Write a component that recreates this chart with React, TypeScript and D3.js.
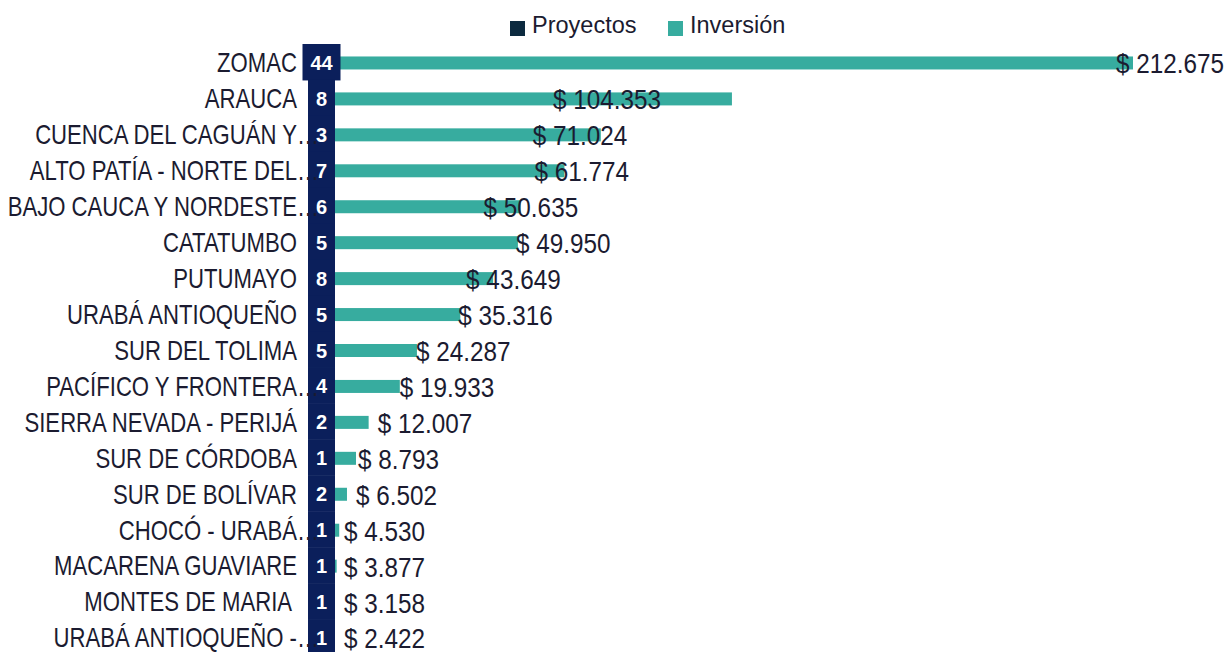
import React from 'react';
import * as d3 from 'd3';

// Regions (PDET), as shown top to bottom
const regiones = [
  'ZOMAC', 'ARAUCA', 'CUENCA DEL CAGUÁN Y', 'ALTO PATÍA - NORTE DEL', 'BAJO CAUCA Y NORDESTE',
  'CATATUMBO', 'PUTUMAYO', 'URABÁ ANTIOQUEÑO', 'SUR DEL TOLIMA', 'PACÍFICO Y FRONTERA',
  'SIERRA NEVADA - PERIJÁ', 'SUR DE CÓRDOBA', 'SUR DE BOLÍVAR', 'CHOCÓ - URABÁ',
  'MACARENA GUAVIARE', 'MONTES DE MARIA ', 'URABÁ ANTIOQUEÑO -',
];
// labels cut off by Excel get an ellipsis
const truncated = [false, false, true, true, true, false, false, false, false, true, false, false, false, true, false, false, true];
const proyectos = [44, 8, 3, 7, 6, 5, 8, 5, 5, 4, 2, 1, 2, 1, 1, 1, 1];
const inversion = [212675, 104353, 71024, 61774, 50635, 49950, 43649, 35316, 24287, 19933, 12007, 8793, 6502, 4530, 3877, 3158, 2422];
// manual label nudges (px) like the original sheet
const labelNudge = [-17, -179, -68, -30, -37, -2, -27, -2, -1, 0, 9, 2, 9, 0, 0, 0, 0];
const axisMax = 206300;

const NAVY = '#0b1f5b';
const TEAL = '#37ac9f';
const TEXT = '#1b1b30';
const FONT = '"Liberation Sans", Arial, sans-serif';
const NARROW = 0.82;
const NARROW_VAL = 0.9;

const fmt = (v: number) => '$ ' + d3.format(',')(v).replace(/,/g, '.');

export default function App() {
  const W = 1226;
  const H = 652;
  const y = d3.scaleBand<string>().domain(regiones).range([44, 655]).paddingInner(0);
  const x = d3.scaleLinear().domain([0, axisMax]).range([321.4, 1133]).clamp(true);
  const boxCx = 321.5;
  const labelRight = 297;

  return (
    <svg width={W} height={H} style={{ position: 'absolute', left: 0, top: 0, background: '#fff' }}>
      {/* legend */}
      <g fontFamily={FONT} fontSize={23.5} fill={TEXT}>
        <rect x={510} y={21} width={15} height={15} fill="#0c2a3f" />
        <text x={532} y={33}>Proyectos</text>
        <rect x={668} y={21} width={15} height={15} fill={TEAL} />
        <text x={690} y={33}>Inversión</text>
      </g>

      {/* teal bars */}
      {regiones.map((r, i) => {
        const cy = (y(r) as number) + y.bandwidth() / 2 + 1;
        return (
          <rect key={'b' + r} x={x(0)} y={cy - 6.5} width={x(inversion[i]) - x(0)} height={13} fill={TEAL} />
        );
      })}

      {/* navy project column */}
      {regiones.map((r, i) => {
        const t = String(proyectos[i]);
        const w = Math.max(27, t.length * 11 + 16);
        return (
          <rect key={'n' + r} x={boxCx - w / 2} y={y(r) as number} width={w} height={y.bandwidth() + 0.5} fill={NAVY} />
        );
      })}

      {/* category labels */}
      {regiones.map((r, i) => {
        const cy = (y(r) as number) + y.bandwidth() / 2 + 1;
        return (
          <g key={'l' + r} fontFamily={FONT} fontSize={27} fill={TEXT}>
            <text transform={`translate(${labelRight},${cy}) scale(${NARROW},1)`} textAnchor="end" dominantBaseline="central" style={{ whiteSpace: 'pre' }}>
              {r}
            </text>
            {truncated[i] && (
              <text transform={`translate(${labelRight},${cy}) scale(${NARROW},1)`} textAnchor="start" dominantBaseline="central">
                …
              </text>
            )}
          </g>
        );
      })}

      {/* project counts */}
      {regiones.map((r, i) => {
        const cy = (y(r) as number) + y.bandwidth() / 2 + 1;
        return (
          <text key={'p' + r} x={boxCx} y={cy} textAnchor="middle" dominantBaseline="central" fontFamily={FONT} fontWeight="bold" fontSize={20} fill="#fff">
            {proyectos[i]}
          </text>
        );
      })}

      {/* investment labels */}
      {regiones.map((r, i) => {
        const cy = (y(r) as number) + y.bandwidth() / 2 + 2;
        const lx = Math.max(x(inversion[i]) + labelNudge[i], 344);
        return (
          <text key={'v' + r} transform={`translate(${lx},${cy}) scale(${NARROW_VAL},1)`} dominantBaseline="central" fontFamily={FONT} fontSize={27} fill={TEXT}>
            {fmt(inversion[i])}
          </text>
        );
      })}
    </svg>
  );
}
